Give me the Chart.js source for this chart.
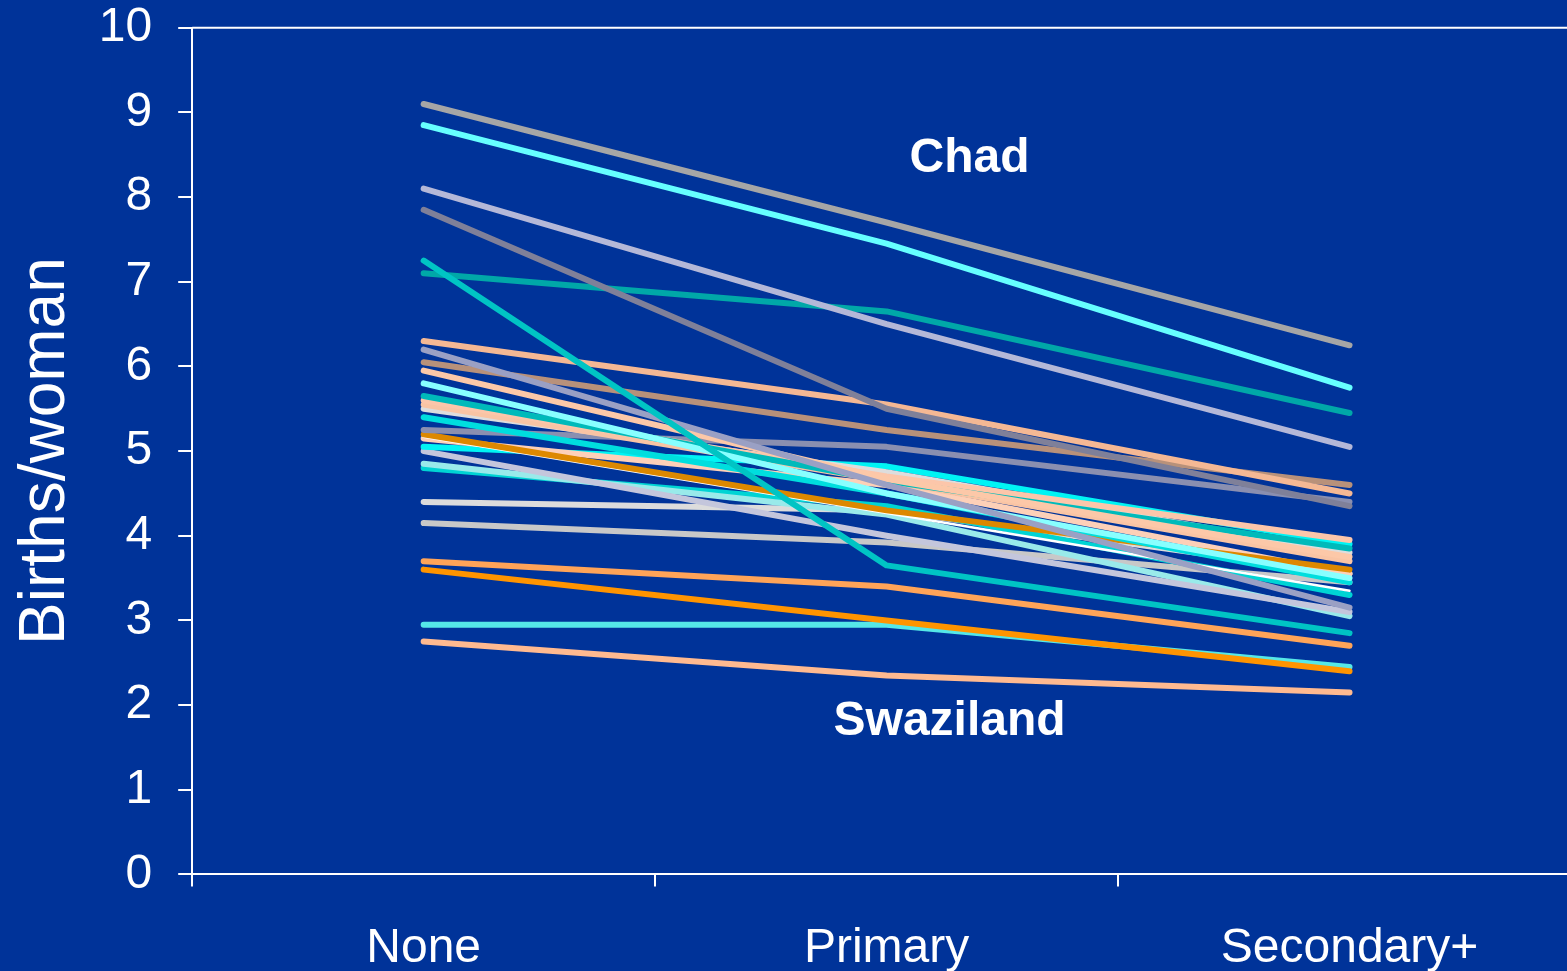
<!DOCTYPE html>
<html>
<head>
<meta charset="utf-8">
<script src="https://cdn.jsdelivr.net/npm/chart.js@4"></script>
<style>
  html, body { margin: 0; padding: 0; background: #003399; overflow: hidden; }
  #wrap { width: 1590px; height: 1009px; position: absolute; left: 0; top: -27px; }
</style>
</head>
<body>
<div id="wrap"><canvas id="fertChart"></canvas></div>
<script>
// education level categories
const categories = ["None", "Primary", "Secondary+"];

// births per woman, one entry per country, by mother's education
const noneValues      = [9.1, 8.85, 8.1, 7.85, 7.25, 7.1, 6.3, 6.2, 6.05, 5.95, 5.8, 5.65, 5.6, 5.55, 5.5, 5.4, 5.25, 5.2, 5.17, 5.15, 5.05, 5.0, 4.85, 4.8, 4.4, 4.15, 3.7, 3.6, 2.95, 2.75];
const primaryValues   = [7.7, 7.45, 6.5, 5.5, 3.65, 6.65, 5.55, 4.6, 5.25, 4.67, 4.5, 4.65, 4.7, 4.65, 4.75, 4.5, 5.05, 4.3, 4.27, 4.6, 4.82, 4.0, 4.25, 4.35, 4.3, 3.92, 3.4, 3.0, 2.95, 2.35];
const secondaryValues = [6.25, 5.75, 5.05, 4.35, 2.85, 5.45, 4.5, 3.15, 4.6, 3.75, 3.5, 3.85, 3.95, 3.7, 3.8, 3.45, 4.4, 3.6, 3.35, 3.55, 3.9, 3.1, 3.05, 3.3, 3.55, 3.45, 2.7, 2.4, 2.45, 2.15];

const lineColors = ["#a6a6a6", "#66ffff", "#b4b8d8", "#7f8099", "#00c4c4", "#00a8a8", "#f4b894", "#9aa0c4", "#b8917a", "#fcc8a8",
                    "#88ffff", "#00baba", "#fcc6aa", "#f9c4a4", "#dddddd", "#00dede", "#8a8fb0", "#dd8800", "#ffffff", "#fdd0b8",
                    "#00f4f4", "#c4c6dc", "#99eaea", "#00d4d4", "#dcdcdc", "#c8c8c8", "#ffa458", "#ff9400", "#55e8e8", "#ffba90"];

const datasets = noneValues.map(function (v, i) {
  return {
    label: "Country " + (i + 1),
    data: [v, primaryValues[i], secondaryValues[i]],
    borderColor: lineColors[i],
    borderWidth: lineColors[i] === "#ffffff" ? 2.5 : 6,
    borderCapStyle: "round",
    borderJoinStyle: "round",
    pointRadius: 0,
    tension: 0,
    fill: false,
  };
});

// top frame line + country call-outs
const extras = {
  id: "extras",
  afterDraw(chart) {
    const ctx = chart.ctx;
    const area = chart.chartArea;
    const x = chart.scales.x, y = chart.scales.y;
    ctx.save();
    ctx.strokeStyle = "#ffffff";
    ctx.lineWidth = 2;
    ctx.beginPath();
    ctx.moveTo(area.left, area.top);
    ctx.lineTo(area.right, area.top);
    ctx.stroke();

    ctx.fillStyle = "#ffffff";
    ctx.font = "bold 48px 'Liberation Sans', Arial, sans-serif";
    ctx.textAlign = "center";
    ctx.textBaseline = "middle";
    ctx.fillText("Chad", x.getPixelForValue(1) + 83, y.getPixelForValue(8.45));
    ctx.fillText("Swaziland", x.getPixelForValue(1) + 63, y.getPixelForValue(1.8));
    ctx.restore();
  },
};

const ctx = document.getElementById("fertChart").getContext("2d");
new Chart(ctx, {
  type: "line",
  data: { labels: categories, datasets: datasets },
  options: {
    responsive: true,
    maintainAspectRatio: false,
    animation: false,
    layout: { padding: { top: -21, right: 9, left: 8, bottom: -30 } },
    plugins: {
      legend: { display: false },
      tooltip: { enabled: false },
    },
    scales: {
      x: {
        offset: true,
        grid: { offset: true, drawOnChartArea: false, color: "#ffffff", tickLength: 12, lineWidth: 2 },
        border: { color: "#ffffff", width: 2 },
        ticks: { color: "#ffffff", padding: 34, font: { family: "'Liberation Sans', Arial, sans-serif", size: 48 } },
      },
      y: {
        min: 0,
        max: 10,
        grid: { drawOnChartArea: false, color: "#ffffff", tickLength: 14, lineWidth: 2 },
        border: { color: "#ffffff", width: 2 },
        ticks: { stepSize: 1, color: "#ffffff", padding: 26, font: { family: "'Liberation Sans', Arial, sans-serif", size: 48 } },
        title: {
          display: true,
          text: "Births/woman",
          color: "#ffffff",
          padding: { top: 0, bottom: -12 },
          font: { family: "'Liberation Sans', Arial, sans-serif", size: 64 },
        },
      },
    },
  },
  plugins: [extras],
});
</script>
</body>
</html>
